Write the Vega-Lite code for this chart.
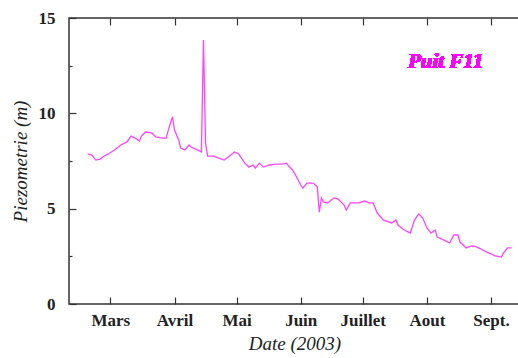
{
  "$schema": "https://vega.github.io/schema/vega-lite/v6.json",
  "width": 451,
  "height": 286,
  "autosize": {"type": "none"},
  "padding": {"left": 69, "top": 18, "right": 0, "bottom": 54},
  "background": "white",
  "config": {
    "view": {"stroke": "#333", "strokeWidth": 1.5},
    "axis": {
      "labelFont": "Liberation Serif",
      "labelFontWeight": "bold",
      "labelFontSize": 17,
      "labelColor": "#222",
      "titleFont": "Liberation Serif",
      "titleFontStyle": "italic",
      "titleFontWeight": "normal",
      "titleFontSize": 19,
      "titleColor": "#222",
      "domain": false,
      "tickColor": "#333",
      "tickWidth": 1.2,
      "grid": false
    }
  },
  "data": {
    "values": [
      {"date": "2003-02-18", "level": 7.87},
      {"date": "2003-02-20", "level": 7.81},
      {"date": "2003-02-22", "level": 7.55},
      {"date": "2003-02-24", "level": 7.6},
      {"date": "2003-02-26", "level": 7.76},
      {"date": "2003-02-28", "level": 7.87},
      {"date": "2003-03-03", "level": 8.08},
      {"date": "2003-03-06", "level": 8.34},
      {"date": "2003-03-09", "level": 8.5},
      {"date": "2003-03-11", "level": 8.81},
      {"date": "2003-03-13", "level": 8.7},
      {"date": "2003-03-15", "level": 8.55},
      {"date": "2003-03-16", "level": 8.81},
      {"date": "2003-03-18", "level": 9.02},
      {"date": "2003-03-21", "level": 8.97},
      {"date": "2003-03-23", "level": 8.76},
      {"date": "2003-03-26", "level": 8.7},
      {"date": "2003-03-28", "level": 8.7},
      {"date": "2003-03-29", "level": 9.12},
      {"date": "2003-03-31", "level": 9.81},
      {"date": "2003-04-01", "level": 9.12},
      {"date": "2003-04-03", "level": 8.6},
      {"date": "2003-04-04", "level": 8.18},
      {"date": "2003-04-06", "level": 8.08},
      {"date": "2003-04-08", "level": 8.34},
      {"date": "2003-04-09", "level": 8.23},
      {"date": "2003-04-12", "level": 8.08},
      {"date": "2003-04-14", "level": 7.97},
      {"date": "2003-04-15", "level": 13.84},
      {"date": "2003-04-16", "level": 8.44},
      {"date": "2003-04-17", "level": 7.76},
      {"date": "2003-04-20", "level": 7.76},
      {"date": "2003-04-22", "level": 7.66},
      {"date": "2003-04-25", "level": 7.55},
      {"date": "2003-04-27", "level": 7.71},
      {"date": "2003-04-30", "level": 7.97},
      {"date": "2003-05-02", "level": 7.87},
      {"date": "2003-05-05", "level": 7.39},
      {"date": "2003-05-07", "level": 7.18},
      {"date": "2003-05-09", "level": 7.29},
      {"date": "2003-05-10", "level": 7.13},
      {"date": "2003-05-12", "level": 7.39},
      {"date": "2003-05-14", "level": 7.18},
      {"date": "2003-05-17", "level": 7.29},
      {"date": "2003-05-20", "level": 7.34},
      {"date": "2003-05-23", "level": 7.34},
      {"date": "2003-05-25", "level": 7.39},
      {"date": "2003-05-28", "level": 7.03},
      {"date": "2003-05-30", "level": 6.66},
      {"date": "2003-06-01", "level": 6.24},
      {"date": "2003-06-02", "level": 6.08},
      {"date": "2003-06-04", "level": 6.34},
      {"date": "2003-06-07", "level": 6.34},
      {"date": "2003-06-09", "level": 6.14},
      {"date": "2003-06-10", "level": 4.82},
      {"date": "2003-06-11", "level": 5.56},
      {"date": "2003-06-12", "level": 5.35},
      {"date": "2003-06-14", "level": 5.3},
      {"date": "2003-06-17", "level": 5.56},
      {"date": "2003-06-19", "level": 5.51},
      {"date": "2003-06-22", "level": 5.19},
      {"date": "2003-06-23", "level": 4.93},
      {"date": "2003-06-25", "level": 5.3},
      {"date": "2003-06-29", "level": 5.3},
      {"date": "2003-07-02", "level": 5.4},
      {"date": "2003-07-04", "level": 5.3},
      {"date": "2003-07-06", "level": 5.3},
      {"date": "2003-07-08", "level": 4.77},
      {"date": "2003-07-11", "level": 4.4},
      {"date": "2003-07-15", "level": 4.25},
      {"date": "2003-07-17", "level": 4.4},
      {"date": "2003-07-18", "level": 4.14},
      {"date": "2003-07-21", "level": 3.88},
      {"date": "2003-07-24", "level": 3.72},
      {"date": "2003-07-26", "level": 4.4},
      {"date": "2003-07-28", "level": 4.72},
      {"date": "2003-07-30", "level": 4.51},
      {"date": "2003-08-01", "level": 3.99},
      {"date": "2003-08-03", "level": 3.72},
      {"date": "2003-08-05", "level": 3.88},
      {"date": "2003-08-06", "level": 3.51},
      {"date": "2003-08-09", "level": 3.36},
      {"date": "2003-08-12", "level": 3.2},
      {"date": "2003-08-14", "level": 3.62},
      {"date": "2003-08-16", "level": 3.62},
      {"date": "2003-08-17", "level": 3.25},
      {"date": "2003-08-20", "level": 2.94},
      {"date": "2003-08-22", "level": 3.04},
      {"date": "2003-08-24", "level": 3.04},
      {"date": "2003-08-26", "level": 2.94},
      {"date": "2003-08-28", "level": 2.83},
      {"date": "2003-08-31", "level": 2.67},
      {"date": "2003-09-03", "level": 2.52},
      {"date": "2003-09-06", "level": 2.46},
      {"date": "2003-09-07", "level": 2.67},
      {"date": "2003-09-09", "level": 2.94},
      {"date": "2003-09-11", "level": 2.94}
    ]
  },
  "layer": [
    {
      "mark": {"type": "line", "color": "#ff44ff", "strokeWidth": 1.3},
      "encoding": {
        "x": {
          "field": "date",
          "type": "temporal",
          "scale": {"type": "utc", "domain": [{"year": 2003, "month": 2, "date": 9, "utc": true}, {"year": 2003, "month": 9, "date": 15, "utc": true}]},
          "axis": {
            "orient": "bottom",
            "title": "Date (2003)",
            "values": [
              {"year": 2003, "month": 3, "date": 1, "utc": true},
              {"year": 2003, "month": 4, "date": 1, "utc": true},
              {"year": 2003, "month": 5, "date": 1, "utc": true},
              {"year": 2003, "month": 6, "date": 1, "utc": true},
              {"year": 2003, "month": 7, "date": 1, "utc": true},
              {"year": 2003, "month": 8, "date": 1, "utc": true},
              {"year": 2003, "month": 9, "date": 1, "utc": true}
            ],
            "labelExpr": "['Jan','Fev','Mars','Avril','Mai','Juin','Juillet','Aout','Sept.','Oct','Nov','Dec'][utcmonth(datum.value)]",
            "offset": -7,
            "tickSize": 7,
            "labelPadding": 8,
            "titlePadding": 6
          }
        },
        "y": {
          "field": "level",
          "type": "quantitative",
          "scale": {"domain": [0, 15], "nice": false, "zero": false},
          "axis": {
            "orient": "left",
            "title": "Piezometrie (m)",
            "values": [0, 5, 10, 15],
            "offset": -7,
            "tickSize": 7,
            "labelPadding": 14,
            "titlePadding": 8
          }
        }
      }
    },
    {
      "mark": {"type": "text", "text": "Puit F11", "font": "Liberation Serif", "fontStyle": "italic", "fontWeight": "bold", "fontSize": 21, "color": "#ff00ff", "align": "center", "baseline": "middle"},
      "encoding": {
        "x": {
          "datum": {"year": 2003, "month": 8, "date": 10, "utc": true},
          "type": "temporal",
          "axis": {
            "orient": "top",
            "title": null,
            "labels": false,
            "values": [
              {"year": 2003, "month": 3, "date": 1, "utc": true},
              {"year": 2003, "month": 4, "date": 1, "utc": true},
              {"year": 2003, "month": 5, "date": 1, "utc": true},
              {"year": 2003, "month": 6, "date": 1, "utc": true},
              {"year": 2003, "month": 7, "date": 1, "utc": true},
              {"year": 2003, "month": 8, "date": 1, "utc": true},
              {"year": 2003, "month": 9, "date": 1, "utc": true}
            ],
            "offset": -7,
            "tickSize": 7
          }
        },
        "y": {
          "datum": 12.7,
          "type": "quantitative",
          "axis": {
            "orient": "left",
            "title": null,
            "labels": false,
            "values": [2.5, 7.5, 12.5],
            "offset": -3,
            "tickSize": 3
          }
        }
      }
    }
  ],
  "resolve": {"axis": {"x": "independent", "y": "independent"}}
}
